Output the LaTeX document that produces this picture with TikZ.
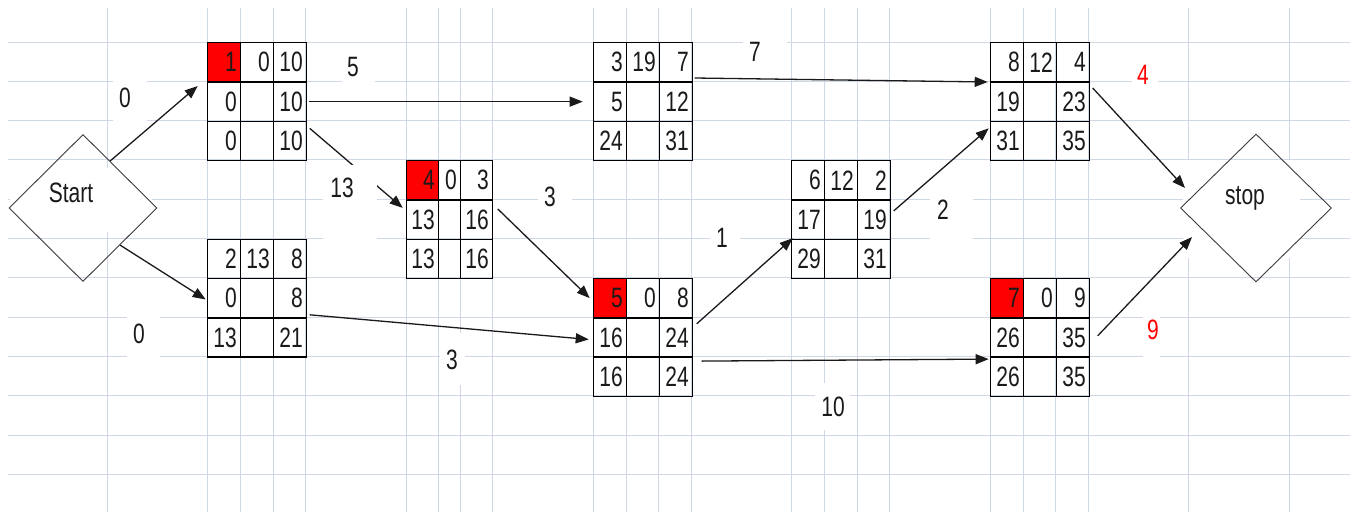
\documentclass[tikz,border=0pt]{standalone}
\usepackage{fontspec}
\setmainfont{Liberation Sans}[FakeStretch=0.75]
\usetikzlibrary{shapes.geometric,arrows.meta,calc,matrix}

\definecolor{gridc}{HTML}{D0D7E5}
\definecolor{ink}{HTML}{1A1A1A}

\tikzset{
  gridline/.style={draw=gridc, line width=1pt},
  cell/.style={draw=black, line width=1.4pt, minimum width=33pt, minimum height=39.3pt,
    inner sep=0pt, text width=25pt, align=right, anchor=center,
    font=\fontsize{28}{30}\selectfont, text=ink},
  hot/.style={fill=red},
  ptbox/.style={matrix of nodes, nodes in empty cells, nodes={cell},
    column sep=-1.4pt, row sep=-1.4pt, inner sep=0pt, outer sep=0pt, anchor=north west},
  narrowmid/.style={column 1/.style={nodes={minimum width=32pt, text width=24pt}},
    column 2/.style={nodes={minimum width=22pt, text width=14pt}},
    column 3/.style={nodes={minimum width=32pt, text width=24pt}}},
  conn/.style={draw=ink, line width=1.3pt, -{Triangle[length=13pt,width=10pt]}},
  dia/.style={shape=diamond, draw=ink!85, line width=0.9pt, inner sep=0pt},
  lbl/.style={inner sep=0pt, font=\fontsize{28}{30}\selectfont, text=ink},
  patch/.style={fill=white},
}

\begin{document}
\begin{tikzpicture}[x=1pt, y=-1pt]
\useasboundingbox (0,0) rectangle (1350,512);
\fill[white] (0,0) rectangle (1350,512);

% worksheet grid
\foreach \gx in {107,207,240,273,305,406,438,460,492,593,626,658,691,791,824,857,889,990,1023,1055,1088,1188,1289}
  \draw[gridline] (\gx,8) -- (\gx,512);
\foreach \k in {0,...,11}
  \draw[gridline] (8,42+39.3*\k) -- (1350,42+39.3*\k);

% white text boxes inside the two diamonds
\fill[patch] (10,168) rectangle (152,232);
\fill[patch] (1183,160) rectangle (1300,258);

% start and end diamonds
\node[dia, minimum width=148pt, minimum height=147pt] (start) at (83,208) {};
\node[lbl] (starttext) at (71,193) {Start};
\node[dia, minimum width=151pt, minimum height=148pt] (stop) at (1256,208) {};
\node[lbl] (stoptext) at (1245,198) {stop};

% activity boxes
\matrix (b1) [ptbox] at (207,42) {
  |[hot]| 1 & 0 & 10 \\
  0 & & 10 \\
  0 & & 10 \\
};
\matrix (b2) [ptbox] at (207,238.5) {
  2 & 13 & 8 \\
  0 & & 8 \\
  13 & & 21 \\
};
\matrix (b3) [ptbox] at (593,42) {
  3 & 19 & 7 \\
  5 & & 12 \\
  24 & & 31 \\
};
\matrix (b4) [ptbox, narrowmid] at (406,159.9) {
  |[hot]| 4 & 0 & 3 \\
  13 & & 16 \\
  13 & & 16 \\
};
\matrix (b5) [ptbox] at (593,277.8) {
  |[hot]| 5 & 0 & 8 \\
  16 & & 24 \\
  16 & & 24 \\
};
\matrix (b6) [ptbox] at (791,159.9) {
  6 & 12 & 2 \\
  17 & & 19 \\
  29 & & 31 \\
};
\matrix (b7) [ptbox] at (990,42) {
  8 & 12 & 4 \\
  19 & & 23 \\
  31 & & 35 \\
};
\matrix (b8) [ptbox] at (990,277.8) {
  |[hot]| 7 & 0 & 9 \\
  26 & & 35 \\
  26 & & 35 \\
};

% edge labels on white patches
\fill[patch] (113,62) rectangle (147,124);
\node[lbl] (w1) at (125,98) {0};
\fill[patch] (127,300) rectangle (160,375);
\node[lbl] (w2) at (139,334) {0};
\fill[patch] (342,55) rectangle (375,100);
\node[lbl] (w3) at (353,67) {5};
\fill[patch] (538,170) rectangle (572,230);
\node[lbl] (w5) at (550,197) {3};
\fill[patch] (440,333) rectangle (465,385);
\node[lbl] (w6) at (452,360) {3};
\fill[patch] (743,25) rectangle (787,70);
\node[lbl] (w7) at (755,52) {7};
\fill[patch] (710,210) rectangle (740,265);
\node[lbl] (w8) at (722,238) {1};
\fill[patch] (930,185) rectangle (973,245);
\node[lbl] (w9) at (943,210) {2};
\fill[patch] (815,383) rectangle (850,430);
\node[lbl] (w10) at (833,407) {10};
\fill[patch] (1132,55) rectangle (1158,100);
\node[lbl, text=red] (w11) at (1143,75) {4};
\fill[patch] (1143,300) rectangle (1160,365);
\node[lbl, text=red] (w12) at (1153,330) {9};

% connectors
\draw[conn] (start.60) -- ([shift={(-10,4)}]b1-2-1.north west);
\draw[conn] (start.-45) -- ([shift={(-2,21)}]b2-2-1.north west);
\draw[conn] ([xshift=2pt]b1-2-3.east) -- ([xshift=-11pt]b3-2-1.west);
\draw[conn] ([shift={(3,7)}]b1-3-3.north east) -- ([shift={(-4,8)}]b4-2-1.north west);
\draw[conn] ([shift={(3,-3)}]b2-3-3.north east) -- ([shift={(-5,2)}]b5-2-1.west);
\draw[conn] ([shift={(5,9)}]b4-2-3.north east) -- ([xshift=-4pt]b5-1-1.west);
\draw[conn] ([shift={(2,-4)}]b3-1-3.south east) -- ([xshift=-3pt]b7-2-1.north west);
\draw[conn] ([shift={(4,6)}]b5-2-3.north east) -- ([shift={(1,-1)}]b6-3-1.north west);
\draw[conn] ([shift={(9,4)}]b5-3-3.north east) -- ([shift={(-2,2)}]b8-3-1.north west);
\draw[conn] ([shift={(3,11)}]b6-2-3.north east) -- ([shift={(-2,7)}]b7-3-1.north west);
\draw[conn] ([shift={(3,6)}]b7-2-3.north east) -- ([shift={(5,-20)}]stop.west);
\draw[conn] ([shift={(8,18)}]b8-2-3.north east) -- ([shift={(12,29)}]stop.west);

% the label 13 sits over its connector
\fill[patch] (323,165) rectangle (377,246);
\node[lbl] (w4) at (342,188) {13};
\end{tikzpicture}
\end{document}
